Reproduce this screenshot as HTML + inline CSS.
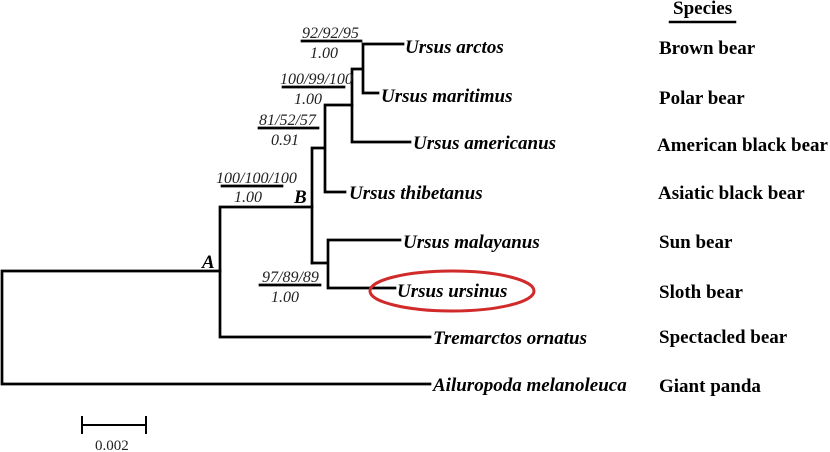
<!DOCTYPE html>
<html><head><meta charset="utf-8"><style>
html,body{margin:0;padding:0;background:#fff;}
svg{display:block;}
.sp{font-family:"Liberation Serif",serif;font-weight:bold;font-style:italic;font-size:19px;fill:#000;}
.cn{font-family:"Liberation Serif",serif;font-weight:bold;font-size:19px;fill:#000;}
.bs{font-family:"Liberation Serif",serif;font-style:italic;font-size:16px;fill:#222;}
</style></head><body>
<svg width="830" height="452" viewBox="0 0 830 452" xmlns="http://www.w3.org/2000/svg">
<g stroke="#000" stroke-width="2.7" fill="none" stroke-linecap="square">
<path d="M2,271V384M2,271H220M2,384H430"/>
<path d="M220,207V337M220,337H430M220,207H312"/>
<path d="M312,148V263M312,148H325M325,105V192M325,192H345M325,105H352"/>
<path d="M352,69V142M352,142H410M352,69H363M363,44V93M363,44H403M363,93H378"/>
<path d="M312,263H328M328,240V288M328,240H400M328,288H395"/>
<path d="M302,41H361M283,87H344M259,128H318M222,186H282M260,285H320"/>
<path d="M82,425H146M82,417V433M146,417V433" stroke-width="2"/>
<path d="M670,22H735" stroke-width="2.5"/>
</g>
<ellipse cx="452" cy="291" rx="82" ry="20" fill="none" stroke="#d02a2a" stroke-width="3"/>
<text class="sp" x="405" y="53">Ursus arctos</text>
<text class="sp" x="381" y="102">Ursus maritimus</text>
<text class="sp" x="413" y="149">Ursus americanus</text>
<text class="sp" x="349" y="199">Ursus thibetanus</text>
<text class="sp" x="403" y="248">Ursus malayanus</text>
<text class="sp" x="397" y="297">Ursus ursinus</text>
<text class="sp" x="433" y="344">Tremarctos ornatus</text>
<text class="sp" x="433" y="391">Ailuropoda melanoleuca</text>
<text class="cn" x="673" y="14">Species</text>
<text class="cn" x="659" y="54">Brown bear</text>
<text class="cn" x="659" y="104">Polar bear</text>
<text class="cn" x="657" y="151">American black bear</text>
<text class="cn" x="658" y="199">Asiatic black bear</text>
<text class="cn" x="659" y="248">Sun bear</text>
<text class="cn" x="659" y="298">Sloth bear</text>
<text class="cn" x="659" y="343">Spectacled bear</text>
<text class="cn" x="659" y="392">Giant panda</text>
<text class="sp" x="202" y="268">A</text>
<text class="sp" x="294" y="203">B</text>
<text class="bs" x="302" y="38">92/92/95</text>
<text class="bs" x="310" y="58">1.00</text>
<text class="bs" x="280" y="84">100/99/100</text>
<text class="bs" x="294" y="104">1.00</text>
<text class="bs" x="259" y="125">81/52/57</text>
<text class="bs" x="271" y="145">0.91</text>
<text class="bs" x="216" y="183">100/100/100</text>
<text class="bs" x="234" y="202">1.00</text>
<text class="bs" x="262" y="282">97/89/89</text>
<text class="bs" x="271" y="302">1.00</text>
<text x="95" y="450" font-family="Liberation Serif,serif" font-size="15" fill="#222">0.002</text>
</svg>
</body></html>
